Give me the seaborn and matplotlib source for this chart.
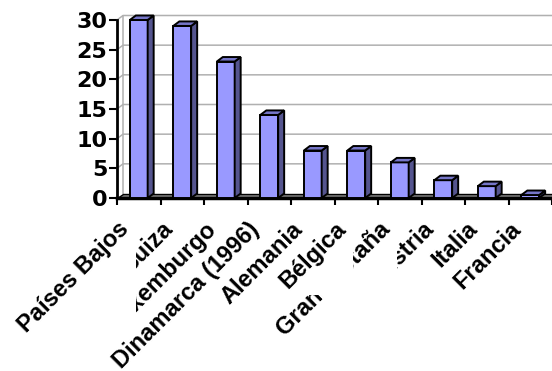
import matplotlib
matplotlib.use("Agg")
import matplotlib.pyplot as plt
import seaborn as sns
import pandas as pd
from matplotlib.patches import Polygon, Rectangle
from matplotlib.lines import Line2D
from matplotlib.transforms import IdentityTransform, ScaledTranslation

# Datos
paises = ["Países Bajos", "Suiza", "Luxemburgo", "Dinamarca (1996)", "Alemania",
          "Bélgica", "Gran Bretaña", "Austria", "Italia", "Francia"]
valores = [30, 29, 23, 14, 8, 8, 6, 3, 2, 0.5]
marcas_y = [0, 5, 10, 15, 20, 25, 30]

# Orden de apilado de las etiquetas y cuáles llevan fondo blanco opaco
capa_etiqueta = [9, 3, 3, 10, 10, 9, 7, 3, 10, 10]
fondo_opaco = [True, False, False, False, False, True, True, False, False, False]

sns.set_theme(style="white")
plt.rcParams["font.family"] = ["Liberation Sans", "DejaVu Sans"]

W, H = 552, 371
fig = plt.figure(figsize=(W / 100, H / 100), dpi=100)
ax = fig.add_axes([117 / W, 1 - 198 / H, 435 / W, 178 / H])

df = pd.DataFrame({"pais": paises, "valor": valores})
sns.barplot(data=df, x="pais", y="valor", color="#9999FF", saturation=1,
            width=0.41, edgecolor="black", linewidth=1.4, ax=ax, zorder=5)

n = len(paises)
ax.set_xlim(-0.5, n - 0.5)
ax.set_ylim(0, 30)
ax.set_xlabel("")
ax.set_ylabel("")
ax.grid(False)

# profundidad 3D en unidades de datos (6 px a la derecha, 4.5 px hacia arriba)
px_x = ax.bbox.width / n
px_y = ax.bbox.height / 30
ddx = 6 / px_x
ddy = 4.5 / px_y

# pared del fondo: líneas de división y borde izquierdo
gris = "#B0B0B0"
for v in marcas_y[1:]:
    ax.add_line(Line2D([-0.5, -0.5 + ddx, n + 1], [v, v + ddy, v + ddy],
                       color=gris, lw=1.1, zorder=1, clip_on=False))
ax.add_line(Line2D([-0.5 + ddx, -0.5 + ddx], [ddy, 30 + ddy],
                   color=gris, lw=1.1, zorder=1, clip_on=False))

# suelo
suelo = Polygon([(-0.5, 0), (n + 1, 0), (n + 1, ddy), (-0.5 + ddx, ddy)],
                closed=True, facecolor="#808080", edgecolor="black", lw=1,
                zorder=1.5, clip_on=False)
ax.add_patch(suelo)

# caras laterales y superiores de las barras
for p in list(ax.patches):
    if p is suelo:
        continue
    p.set_clip_on(False)
    x0, w, h = p.get_x(), p.get_width(), p.get_height()
    x1 = x0 + w
    lado = Polygon([(x1, 0), (x1, h), (x1 + ddx, h + ddy), (x1 + ddx, ddy)],
                   closed=True, facecolor="#55558F", edgecolor="black",
                   lw=1.4, zorder=5, joinstyle="miter", clip_on=False)
    tapa = Polygon([(x0, h), (x1, h), (x1 + ddx, h + ddy), (x0 + ddx, h + ddy)],
                   closed=True, facecolor="#7676C8", edgecolor="black",
                   lw=1.4, zorder=5, joinstyle="miter", clip_on=False)
    ax.add_patch(lado)
    ax.add_patch(tapa)

# ejes
for s in ["top", "right"]:
    ax.spines[s].set_visible(False)
ax.spines["left"].set_linewidth(2)
ax.spines["left"].set_color("black")
ax.spines["bottom"].set_linewidth(2.5)
ax.spines["bottom"].set_color("black")
ax.spines["left"].set_zorder(6)
ax.spines["bottom"].set_zorder(4)

ax.set_yticks(marcas_y)
ax.tick_params(axis="y", direction="out", length=6, width=1.5, color="black",
               pad=1, labelsize=16, left=True)
for t in ax.get_yticklabels():
    t.set_fontweight("bold")
    t.set_family("DejaVu Sans")
    t.set_color("black")

ax.set_xticks(range(n))
ax.set_xticks([i - 0.5 for i in range(n + 1)], minor=True)
ax.tick_params(axis="x", which="major", length=0, labelbottom=False)
ax.tick_params(axis="x", which="minor", direction="out", length=5, width=1.5,
               color="black", bottom=True)

# etiquetas de categoría giradas
desplaza = ScaledTranslation(-0.05, -0.195, fig.dpi_scale_trans)
etiquetas = []
for i, nombre in enumerate(paises):
    t = ax.text(i, 0, nombre, transform=ax.transData + desplaza,
                rotation=45, ha="right", va="top", fontsize=17,
                fontweight="bold", family="Liberation Sans", color="black",
                zorder=capa_etiqueta[i], clip_on=False)
    etiquetas.append(t)

fig.canvas.draw()
r = fig.canvas.get_renderer()
for t, z, opaco in zip(etiquetas, capa_etiqueta, fondo_opaco):
    if not opaco:
        continue
    bb = t.get_window_extent(r)
    ax.add_artist(Rectangle((bb.x0 - 2, bb.y0 - 2), bb.width + 4, bb.height + 4,
                            transform=IdentityTransform(), facecolor="white",
                            edgecolor="none", zorder=z - 0.1, clip_on=False))

fig.savefig("out.png", dpi=100)
